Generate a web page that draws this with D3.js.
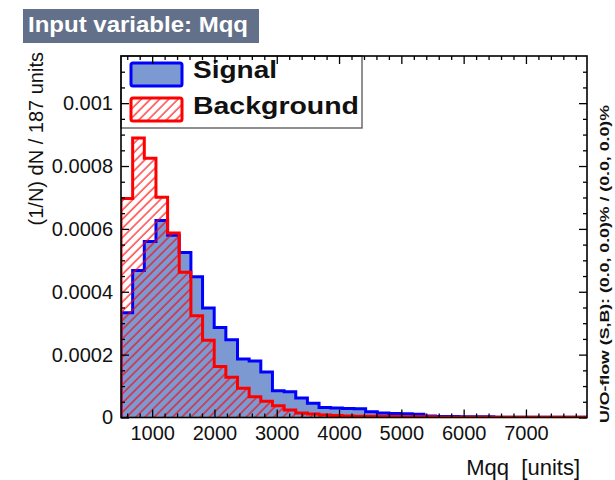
<!DOCTYPE html>
<html><head><meta charset="utf-8">
<script src="https://cdn.jsdelivr.net/npm/d3@7"></script>
<style>
body{margin:0;background:#fff;}
svg{display:block;font-family:"Liberation Sans",Arial,Helvetica,sans-serif;}
</style>
</head><body><div id="chart"></div>
<script>
// ---- data ----
const binStart = 500;
const binWidth = 187;
const signal = [3.33e-4,4.68e-4,5.60e-4,6.27e-4,5.80e-4,5.25e-4,4.48e-4,3.48e-4,2.86e-4,2.47e-4,
  1.86e-4,1.80e-4,1.45e-4,0.85e-4,0.82e-4,0.62e-4,0.45e-4,0.32e-4,0.30e-4,0.29e-4,
  0.28e-4,0.18e-4,0.14e-4,0.13e-4,0.12e-4,0.10e-4,0.05e-4,0.03e-4,0.03e-4,0.02e-4,
  0.02e-4,0.02e-4,0.01e-4,0.01e-4,0.01e-4,0.01e-4,0.01e-4,0.01e-4,0.01e-4,0.01e-4];
const background = [6.97e-4,8.89e-4,8.25e-4,7.01e-4,5.87e-4,4.62e-4,3.24e-4,2.46e-4,1.62e-4,1.28e-4,
  0.93e-4,0.66e-4,0.52e-4,0.37e-4,0.24e-4,0.14e-4,0.11e-4,0.08e-4,0.06e-4,0.05e-4,
  0.04e-4,0.04e-4,0.03e-4,0.03e-4,0.02e-4,0.02e-4,0.02e-4,0.01e-4,0.01e-4,0.01e-4,
  0.01e-4,0.01e-4,0.01e-4,0.01e-4,0.01e-4,0.01e-4,0.01e-4,0.01e-4,0.01e-4,0.01e-4];
const seriesNames = ["Signal","Background"];
const xTickValues = [1000,2000,3000,4000,5000,6000,7000];
const xTickLabels = ["1000","2000","3000","4000","5000","6000","7000"];
const yTickValues = [0,0.0002,0.0004,0.0006,0.0008,0.001];
const yTickLabels = ["0","0.0002","0.0004","0.0006","0.0008","0.001"];
const titleText = "Input variable: Mqq";
const xTitle = "Mqq  [units]";
const yTitle = "(1/N) dN / 187 units";
const flowText = "U/O-flow (S,B): (0.0, 0.0)% / (0.0, 0.0)%";
const xMax = binStart + binWidth * signal.length;
const yMax = 0.00115;

// ---- layout ----
const W = 615, H = 480;
const L = 121, R = 587, T = 56, B = 417.5;

const svg = d3.select("#chart").append("svg").attr("width", W).attr("height", H);
const defs = svg.append("defs");
const pat = defs.append("pattern").attr("id","hatch").attr("patternUnits","userSpaceOnUse")
  .attr("width",6.5).attr("height",6.5).attr("patternTransform","rotate(45)");
pat.append("line").attr("x1",1).attr("y1",0).attr("x2",1).attr("y2",6.5)
  .attr("stroke","#ff0000").attr("stroke-width",1.1);
defs.append("clipPath").attr("id","clip").append("rect")
  .attr("x",L).attr("y",T).attr("width",R-L).attr("height",B-T);

const x = d3.scaleLinear().domain([binStart, xMax]).range([L, R]);
const y = d3.scaleLinear().domain([0, yMax]).range([B, T]);

function stepPoints(vals){
  const pts = [[binStart, 0]];
  vals.forEach((v,i)=>{
    pts.push([binStart + i*binWidth, v]);
    pts.push([binStart + (i+1)*binWidth, v]);
  });
  pts.push([binStart + vals.length*binWidth, 0]);
  return pts;
}
const line = d3.line().x(d=>x(d[0])).y(d=>y(d[1]));
const area = d3.area().x(d=>x(d[0])).y0(y(0)).y1(d=>y(d[1]));

const g = svg.append("g").attr("clip-path","url(#clip)");
g.append("path").attr("d", area(stepPoints(signal))).attr("fill","#7d99d1");
g.append("path").attr("d", line(stepPoints(signal))).attr("fill","none")
  .attr("stroke","#0000ff").attr("stroke-width",3).attr("stroke-linejoin","miter");
g.append("path").attr("d", area(stepPoints(background))).attr("fill","url(#hatch)");
g.append("path").attr("d", line(stepPoints(background))).attr("fill","none")
  .attr("stroke","#ff0000").attr("stroke-width",3).attr("stroke-linejoin","miter");

// ---- legend ----
const leg = svg.append("g");
leg.append("rect").attr("x",L).attr("y",T).attr("width",241).attr("height",72)
  .attr("fill","#fff").attr("stroke","#555").attr("stroke-width",1.3);
leg.append("rect").attr("x",131).attr("y",63).attr("width",51).attr("height",23)
  .attr("rx",2).attr("fill","#7d99d1").attr("stroke","#0000ff").attr("stroke-width",3);
leg.append("rect").attr("x",131).attr("y",98).attr("width",51).attr("height",23)
  .attr("rx",2).attr("fill","url(#hatch)").attr("stroke","#ff0000").attr("stroke-width",3);
leg.append("text").attr("x",193).attr("y",77.5).text(seriesNames[0])
  .attr("font-size",24).attr("font-weight","bold").attr("fill","#111")
  .attr("textLength",84).attr("lengthAdjust","spacingAndGlyphs");
leg.append("text").attr("x",193).attr("y",114).text(seriesNames[1])
  .attr("font-size",24).attr("font-weight","bold").attr("fill","#111")
  .attr("textLength",166).attr("lengthAdjust","spacingAndGlyphs");

// ---- axes ----
const xMinor = d3.range(600, xMax, 200).filter(v => v % 1000 !== 0);
const yMinor = d3.range(0, yMax, 0.00005).filter((v,i) => i % 4 !== 0);

function styleAxis(sel, fs){
  sel.select(".domain").remove();
  sel.selectAll(".tick line").attr("stroke","#000").attr("stroke-width",1.3);
  sel.selectAll(".tick text").attr("font-size",fs).attr("fill","#111")
    .attr("font-family","Liberation Sans, Arial, sans-serif");
}
const gx = svg.append("g").attr("transform",`translate(0,${B})`)
  .call(d3.axisBottom(x).tickValues(xTickValues).tickFormat((d,i)=>xTickLabels[i])
    .tickSizeInner(-8).tickSizeOuter(0).tickPadding(8));
styleAxis(gx, 20);
const gxm = svg.append("g").attr("transform",`translate(0,${B})`)
  .call(d3.axisBottom(x).tickValues(xMinor).tickFormat("").tickSizeInner(-4).tickSizeOuter(0));
styleAxis(gxm, 0);
const gxt = svg.append("g").attr("transform",`translate(0,${T})`)
  .call(d3.axisTop(x).tickValues(xTickValues).tickFormat("").tickSizeInner(-8).tickSizeOuter(0));
styleAxis(gxt, 0);
const gxtm = svg.append("g").attr("transform",`translate(0,${T})`)
  .call(d3.axisTop(x).tickValues(xMinor).tickFormat("").tickSizeInner(-4).tickSizeOuter(0));
styleAxis(gxtm, 0);

const gy = svg.append("g").attr("transform",`translate(${L},0)`)
  .call(d3.axisLeft(y).tickValues(yTickValues).tickFormat((d,i)=>yTickLabels[i])
    .tickSizeInner(-8).tickSizeOuter(0).tickPadding(8));
styleAxis(gy, 20);
const gym = svg.append("g").attr("transform",`translate(${L},0)`)
  .call(d3.axisLeft(y).tickValues(yMinor).tickFormat("").tickSizeInner(-4).tickSizeOuter(0));
styleAxis(gym, 0);
const gyr = svg.append("g").attr("transform",`translate(${R},0)`)
  .call(d3.axisRight(y).tickValues(yTickValues).tickFormat("").tickSizeInner(-8).tickSizeOuter(0));
styleAxis(gyr, 0);
const gyrm = svg.append("g").attr("transform",`translate(${R},0)`)
  .call(d3.axisRight(y).tickValues(yMinor).tickFormat("").tickSizeInner(-4).tickSizeOuter(0));
styleAxis(gyrm, 0);

svg.append("rect").attr("x",L).attr("y",T).attr("width",R-L).attr("height",B-T)
  .attr("fill","none").attr("stroke","#000").attr("stroke-width",1.6);

// ---- titles ----
svg.append("rect").attr("x",23).attr("y",9).attr("width",236).attr("height",34).attr("fill","#627089");
svg.append("text").attr("x",28).attr("y",32).text(titleText)
  .attr("font-size",22).attr("font-weight","bold").attr("fill","#fff")
  .attr("textLength",220).attr("lengthAdjust","spacingAndGlyphs");

svg.append("text").attr("x",580).attr("y",475).attr("text-anchor","end")
  .style("white-space","pre").attr("font-size",22).attr("fill","#111").text(xTitle);

svg.append("text").attr("transform","translate(43,52) rotate(-90)")
  .attr("text-anchor","end").attr("font-size",20).attr("fill","#111").text(yTitle);

svg.append("text").attr("transform","translate(609,423) rotate(-90)")
  .attr("font-size",13).attr("fill","#111").attr("font-weight","bold")
  .attr("textLength",318).attr("lengthAdjust","spacingAndGlyphs").text(flowText);
</script>
</body></html>
